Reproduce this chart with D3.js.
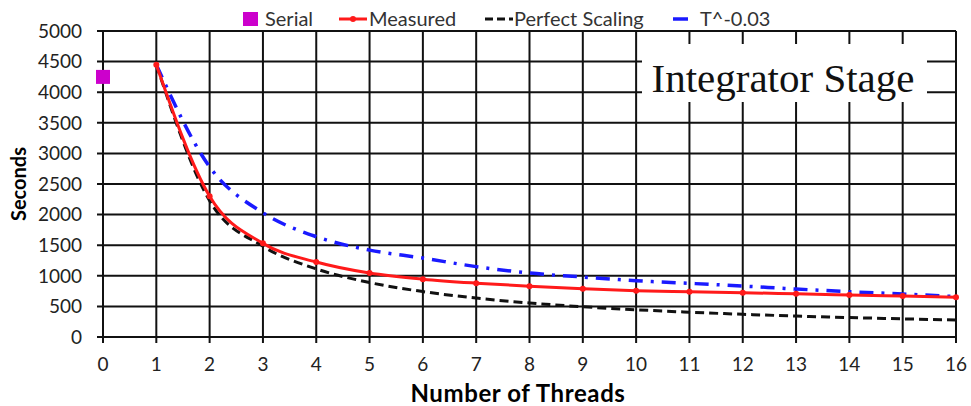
<!DOCTYPE html>
<html>
<head>
<meta charset="utf-8">
<script src="https://cdnjs.cloudflare.com/ajax/libs/d3/7.8.5/d3.min.js"></script>
<style>
  body { margin: 0; background: #fff; }
  svg { display: block; }
  text { font-family: Lato, "Open Sans", sans-serif; }
</style>
</head>
<body>
<div id="chart"></div>
<script>
// thread counts
var threads = [1, 2, 3, 4, 5, 6, 7, 8, 9, 10, 11, 12, 13, 14, 15, 16];

// seconds
var measured = [4450, 2300, 1530, 1225, 1045, 945, 880, 830, 790, 757, 740, 724, 705, 686, 668, 650];
var perfect = [4450, 2225, 1483, 1113, 890, 742, 636, 556, 494, 445, 405, 371, 342, 318, 297, 278];
var powerFit = [4450, 2780, 2030, 1640, 1420, 1290, 1150, 1045, 980, 920, 877, 833, 784, 740, 703, 660];

var serialX = [0];
var serial = [4250];

var xTicks = d3.range(0, 17);
var yTicks = d3.range(0, 5001, 500);

var width = 971;
var height = 406;
var margin = {top: 31, right: 15, bottom: 69, left: 103};

var svg = d3.select('#chart')
    .append('svg')
    .attr('width', width)
    .attr('height', height);

var x = d3.scaleLinear()
    .domain([0, 16])
    .range([margin.left, width - margin.right]);

var y = d3.scaleLinear()
    .domain([0, 5000])
    .range([height - margin.bottom, margin.top]);

// grid
svg.append('g')
    .selectAll('line')
    .data(xTicks)
    .enter()
    .append('line')
    .attr('x1', function (d) { return x(d); })
    .attr('x2', function (d) { return x(d); })
    .attr('y1', y(5000))
    .attr('y2', y(0) + 6)
    .attr('stroke', '#111')
    .attr('stroke-width', 2);

svg.append('g')
    .selectAll('line')
    .data(yTicks)
    .enter()
    .append('line')
    .attr('x1', x(0) - 6)
    .attr('x2', x(16))
    .attr('y1', function (d) { return y(d); })
    .attr('y2', function (d) { return y(d); })
    .attr('stroke', '#111')
    .attr('stroke-width', 2);

// tick labels
svg.append('g')
    .selectAll('text')
    .data(yTicks)
    .enter()
    .append('text')
    .attr('x', x(0) - 21)
    .attr('y', function (d) { return y(d); })
    .attr('dy', '0.36em')
    .attr('text-anchor', 'end')
    .attr('font-size', 19)
    .attr('fill', '#222')
    .text(function (d) { return d; });

svg.append('g')
    .selectAll('text')
    .data(xTicks)
    .enter()
    .append('text')
    .attr('x', function (d) { return x(d); })
    .attr('y', y(0) + 34)
    .attr('text-anchor', 'middle')
    .attr('font-size', 19)
    .attr('fill', '#222')
    .text(function (d) { return d; });

// axis titles
svg.append('text')
    .attr('transform', 'translate(26,' + y(2500) + ') rotate(-90)')
    .attr('text-anchor', 'middle')
    .attr('font-size', 20)
    .attr('font-weight', 'bold')
    .text('Seconds');

svg.append('text')
    .attr('x', 518)
    .attr('y', 402)
    .attr('text-anchor', 'middle')
    .attr('font-size', 24)
    .attr('font-weight', 'bold')
    .attr('letter-spacing', 0.6)
    .text('Number of Threads');

// title box
svg.append('rect')
    .attr('x', 642)
    .attr('y', 44)
    .attr('width', 285)
    .attr('height', 58)
    .attr('fill', '#fff');

svg.append('text')
    .attr('x', 783)
    .attr('y', 92)
    .attr('text-anchor', 'middle')
    .style('font-family', '"Liberation Serif", "DejaVu Serif", serif')
    .attr('font-size', 41)
    .attr('fill', '#111')
    .text('Integrator Stage');

// series
function pts(vals) {
    return threads.map(function (t, i) { return [t, vals[i]]; });
}

var line = d3.line()
    .x(function (d) { return x(d[0]); })
    .y(function (d) { return y(d[1]); })
    .curve(d3.curveMonotoneX);

svg.append('path')
    .attr('d', line(pts(perfect)))
    .attr('fill', 'none')
    .attr('stroke', '#111')
    .attr('stroke-width', 3)
    .attr('stroke-dasharray', '9,5');

svg.append('path')
    .attr('d', line(pts(powerFit)))
    .attr('fill', 'none')
    .attr('stroke', '#1a1aff')
    .attr('stroke-width', 3.5)
    .attr('stroke-dasharray', '14,8,3,8');

svg.append('path')
    .attr('d', line(pts(measured)))
    .attr('fill', 'none')
    .attr('stroke', '#ff1a1a')
    .attr('stroke-width', 3);

svg.append('g')
    .selectAll('circle')
    .data(pts(measured))
    .enter()
    .append('circle')
    .attr('cx', function (d) { return x(d[0]); })
    .attr('cy', function (d) { return y(d[1]); })
    .attr('r', 3)
    .attr('fill', '#ff1a1a');

svg.append('g')
    .selectAll('rect')
    .data(serial)
    .enter()
    .append('rect')
    .attr('x', function (d, i) { return x(serialX[i]) - 7; })
    .attr('y', function (d) { return y(d) - 7; })
    .attr('width', 14)
    .attr('height', 14)
    .attr('fill', '#cc00cc');

// legend
var lg = svg.append('g').attr('font-size', 20).attr('fill', '#333');

lg.append('rect').attr('x', 243).attr('y', 12).attr('width', 15).attr('height', 14).attr('fill', '#cc00cc');
lg.append('text').attr('x', 265).attr('y', 26).text('Serial');

lg.append('line').attr('x1', 339).attr('x2', 367).attr('y1', 19).attr('y2', 19)
    .attr('stroke', '#ff1a1a').attr('stroke-width', 3);
lg.append('circle').attr('cx', 353).attr('cy', 19).attr('r', 3).attr('fill', '#ff1a1a');
lg.append('text').attr('x', 369).attr('y', 26).text('Measured');

lg.append('line').attr('x1', 485).attr('x2', 513).attr('y1', 19).attr('y2', 19)
    .attr('stroke', '#111').attr('stroke-width', 3).attr('stroke-dasharray', '8,4');
lg.append('text').attr('x', 514).attr('y', 26).text('Perfect Scaling');

lg.append('line').attr('x1', 673).attr('x2', 688).attr('y1', 19).attr('y2', 19)
    .attr('stroke', '#1a1aff').attr('stroke-width', 3.5);
lg.append('text').attr('x', 700).attr('y', 26).text('T^-0.03');
</script>
</body>
</html>
